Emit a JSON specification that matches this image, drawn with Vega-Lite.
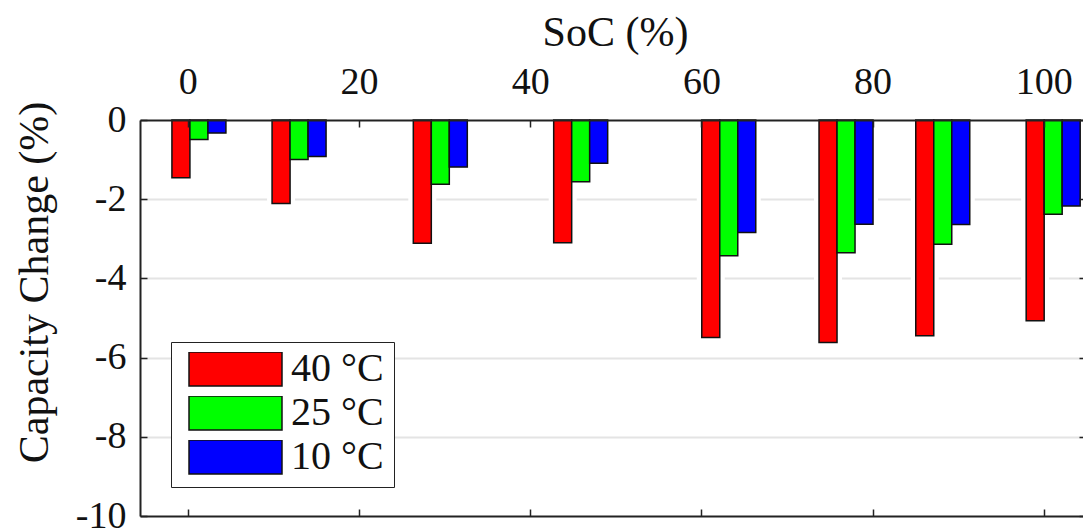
{
  "$schema": "https://vega.github.io/schema/vega-lite/v6.json",
  "width": 943,
  "height": 396,
  "autosize": "none",
  "padding": {"left": 140, "top": 120, "right": 0, "bottom": 16},
  "background": "white",
  "config": {
    "font": "Liberation Serif",
    "view": {"stroke": null},
    "axis": {
      "labelFont": "Liberation Serif",
      "titleFont": "Liberation Serif",
      "labelColor": "#111",
      "titleColor": "#111",
      "titleFontWeight": "normal",
      "domainColor": "#222",
      "tickColor": "#222"
    }
  },
  "data": {
    "values": [
      {"soc": 1.3, "temp": "40 °C", "change": -1.46},
      {"soc": 13.0, "temp": "40 °C", "change": -2.11},
      {"soc": 29.5, "temp": "40 °C", "change": -3.11},
      {"soc": 45.9, "temp": "40 °C", "change": -3.10},
      {"soc": 63.2, "temp": "40 °C", "change": -5.49},
      {"soc": 76.9, "temp": "40 °C", "change": -5.62},
      {"soc": 88.2, "temp": "40 °C", "change": -5.45},
      {"soc": 101.1, "temp": "40 °C", "change": -5.07},
      {"soc": 1.3, "temp": "25 °C", "change": -0.49},
      {"soc": 13.0, "temp": "25 °C", "change": -1.00},
      {"soc": 29.5, "temp": "25 °C", "change": -1.62},
      {"soc": 45.9, "temp": "25 °C", "change": -1.56},
      {"soc": 63.2, "temp": "25 °C", "change": -3.43},
      {"soc": 76.9, "temp": "25 °C", "change": -3.35},
      {"soc": 88.2, "temp": "25 °C", "change": -3.14},
      {"soc": 101.1, "temp": "25 °C", "change": -2.38},
      {"soc": 1.3, "temp": "10 °C", "change": -0.33},
      {"soc": 13.0, "temp": "10 °C", "change": -0.92},
      {"soc": 29.5, "temp": "10 °C", "change": -1.19},
      {"soc": 45.9, "temp": "10 °C", "change": -1.09},
      {"soc": 63.2, "temp": "10 °C", "change": -2.84},
      {"soc": 76.9, "temp": "10 °C", "change": -2.63},
      {"soc": 88.2, "temp": "10 °C", "change": -2.64},
      {"soc": 101.1, "temp": "10 °C", "change": -2.17}
    ]
  },
  "encoding": {
    "x": {"field": "soc", "type": "quantitative", "scale": {"domain": [-5, 104], "nice": false, "zero": false}, "axis": null},
    "y": {"field": "change", "type": "quantitative", "scale": {"domain": [-10, 0], "nice": false}, "axis": null}
  },
  "layer": [
    {
      "transform": [{"filter": "datum.temp === '40 °C'"}],
      "mark": {"type": "bar", "size": 18, "xOffset": -18, "fill": "white", "stroke": "white", "strokeWidth": 10},
      "encoding": {
        "x": {
          "field": "soc",
          "type": "quantitative",
          "axis": {
            "orient": "top",
            "values": [0, 20, 40, 60, 80, 100],
            "title": "SoC (%)",
            "titleFontSize": 42,
            "titleX": 475,
            "titleY": -75,
            "titleBaseline": "alphabetic",
            "labelFontSize": 38,
            "labelBaseline": "alphabetic",
            "tickSize": -7,
            "tickWidth": 1.5,
            "labelPadding": 34,
            "domainWidth": 2,
            "grid": false,
            "zindex": 1
          }
        },
        "y": {
          "field": "change",
          "type": "quantitative",
          "axis": {
            "orient": "left",
            "values": [-8, -6, -4, -2],
            "grid": true,
            "gridColor": "#e4e4e4",
            "gridWidth": 2,
            "domain": false,
            "ticks": false,
            "labels": false,
            "title": null,
            "zindex": 0
          }
        }
      }
    },
    {
      "transform": [{"filter": "datum.temp === '25 °C'"}],
      "mark": {"type": "bar", "size": 18, "xOffset": 0, "fill": "white", "stroke": "white", "strokeWidth": 10},
      "encoding": {
        "y": {
          "field": "change",
          "type": "quantitative",
          "axis": {
            "orient": "right",
            "values": [-10, -8, -6, -4, -2, 0],
            "offset": 3,
            "domain": false,
            "labels": false,
            "grid": false,
            "title": null,
            "tickSize": -7,
            "tickWidth": 1.5,
            "zindex": 1
          }
        }
      }
    },
    {
      "transform": [{"filter": "datum.temp === '10 °C'"}],
      "mark": {"type": "bar", "size": 18, "xOffset": 18, "fill": "white", "stroke": "white", "strokeWidth": 10}
    },
    {
      "transform": [{"filter": "datum.temp === '40 °C'"}],
      "mark": {"type": "bar", "size": 18, "xOffset": -18, "stroke": "#111", "strokeWidth": 1.5},
      "encoding": {
        "x": {
          "field": "soc",
          "type": "quantitative",
          "axis": {
            "orient": "bottom",
            "values": [0, 20, 40, 60, 80, 100],
            "labels": false,
            "title": null,
            "tickSize": -7,
            "tickWidth": 1.5,
            "domainWidth": 2,
            "grid": false,
            "zindex": 1
          }
        },
        "y": {
          "field": "change",
          "type": "quantitative",
          "axis": {
            "orient": "left",
            "values": [-10, -8, -6, -4, -2, 0],
            "labelExpr": "datum.value < 0 ? '-' + abs(datum.value) : '' + datum.value",
            "grid": false,
            "tickSize": -7,
            "tickWidth": 1.5,
            "labelPadding": 21,
            "labelFontSize": 38,
            "domainWidth": 2,
            "title": "Capacity Change (%)",
            "titleFontSize": 42,
            "titleX": -106,
            "titleY": 162,
            "titleAngle": -90,
            "titleAlign": "center",
            "titleBaseline": "middle",
            "zindex": 1
          }
        },
        "color": {
          "field": "temp",
          "type": "nominal",
          "sort": ["40 °C", "25 °C", "10 °C"],
          "scale": {"domain": ["40 °C", "25 °C", "10 °C"], "range": ["#ff0000", "#00ff00", "#0000ff"]},
          "legend": {
            "orient": "none",
            "legendX": 31,
            "legendY": 222,
            "title": null,
            "symbolType": "M-1,-0.3656H1V0.3656H-1Z",
            "symbolSize": 8649,
            "symbolStrokeColor": "#111",
            "symbolStrokeWidth": 1.5,
            "symbolOffset": 7,
            "clipHeight": 34,
            "rowPadding": 4,
            "labelOffset": 8,
            "labelFont": "Liberation Serif",
            "labelFontSize": 40,
            "labelColor": "#111",
            "labelLimit": 300,
            "strokeColor": "#222",
            "fillColor": "white",
            "padding": 10
          }
        }
      }
    },
    {
      "transform": [{"filter": "datum.temp === '25 °C'"}],
      "mark": {"type": "bar", "size": 18, "xOffset": 0, "stroke": "#111", "strokeWidth": 1.5},
      "encoding": {"color": {"field": "temp", "type": "nominal"}}
    },
    {
      "transform": [{"filter": "datum.temp === '10 °C'"}],
      "mark": {"type": "bar", "size": 18, "xOffset": 18, "stroke": "#111", "strokeWidth": 1.5},
      "encoding": {"color": {"field": "temp", "type": "nominal"}}
    }
  ],
  "resolve": {"axis": {"x": "independent", "y": "independent"}}
}
